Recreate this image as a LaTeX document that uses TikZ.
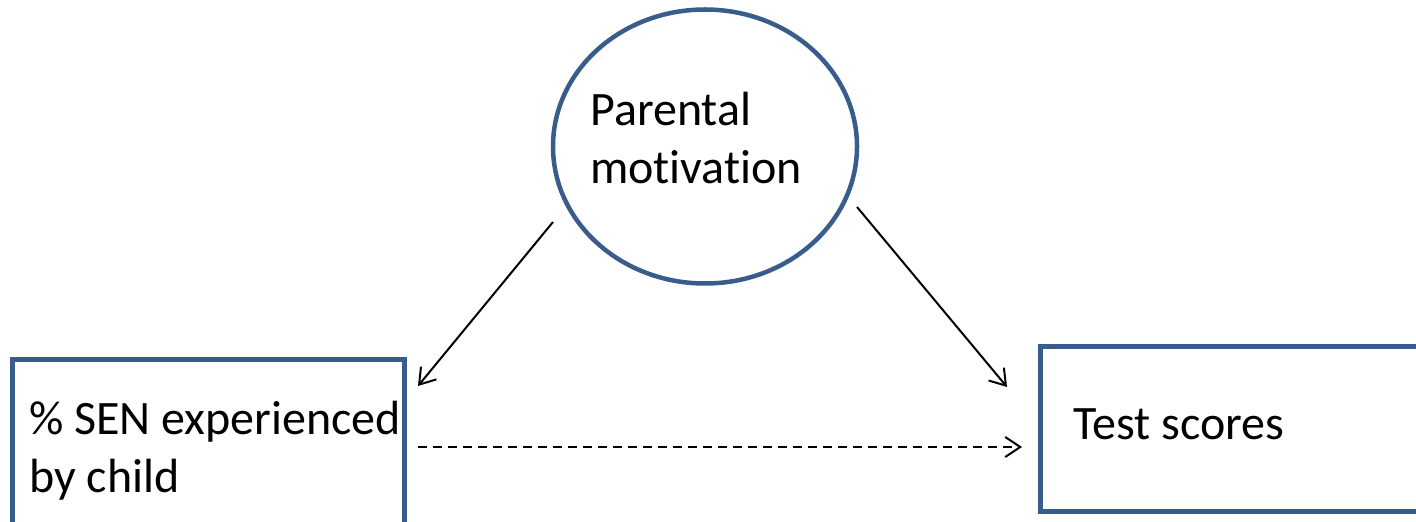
\documentclass[tikz,border=0pt]{standalone}
\usepackage{fontspec}
\setmainfont[Ligatures={NoCommon}]{Carlito}
\usetikzlibrary{shapes.geometric,arrows.meta}
\definecolor{frameblue}{RGB}{56,93,138}
\tikzset{
  txt/.style={inner sep=0pt, align=left, anchor=north west,
    font=\fontsize{48bp}{58bp}\selectfont},
  frame/.style={draw=frameblue, line width=4.5bp, inner sep=0pt},
  link/.style={line width=2bp, -{Straight Barb[length=15bp,width=20bp,line width=2bp]}},
}
\begin{document}
\begin{tikzpicture}[x=1bp,y=-1bp]
  \useasboundingbox (0,0) rectangle (1416,522);
  \clip (0,0) rectangle (1416,522);

  % variables
  \node[frame, ellipse, minimum width=304bp, minimum height=274bp] (pm) at (705,146.5) {};
  \node[frame, rectangle, anchor=north west, minimum width=392bp, minimum height=220bp] (sen) at (10,357) {};
  \node[frame, rectangle, anchor=north west, minimum width=402bp, minimum height=165bp] (ts) at (1038,344) {};

  % labels
  \node[txt] (pmtext) at (590,92) {Parental\\motivation};
  \node[txt] (sentext) at (29,401) {\% SEN experienced\\by child};
  \node[txt] (tstext) at (1073,409) {Test scores};

  % connector end points
  \coordinate (pmL) at (553,222);
  \coordinate (senT) at (418,386);
  \coordinate (pmR) at (857,207);
  \coordinate (tsT) at (1007,387);
  \coordinate (senR) at (418,447);
  \coordinate (tsL) at (1022,447);

  \draw[link] (pmL) -- (senT);
  \draw[link] (pmR) -- (tsT);
  \draw[link, dash pattern=on 9bp off 6bp] (senR) -- (tsL);
\end{tikzpicture}
\end{document}
